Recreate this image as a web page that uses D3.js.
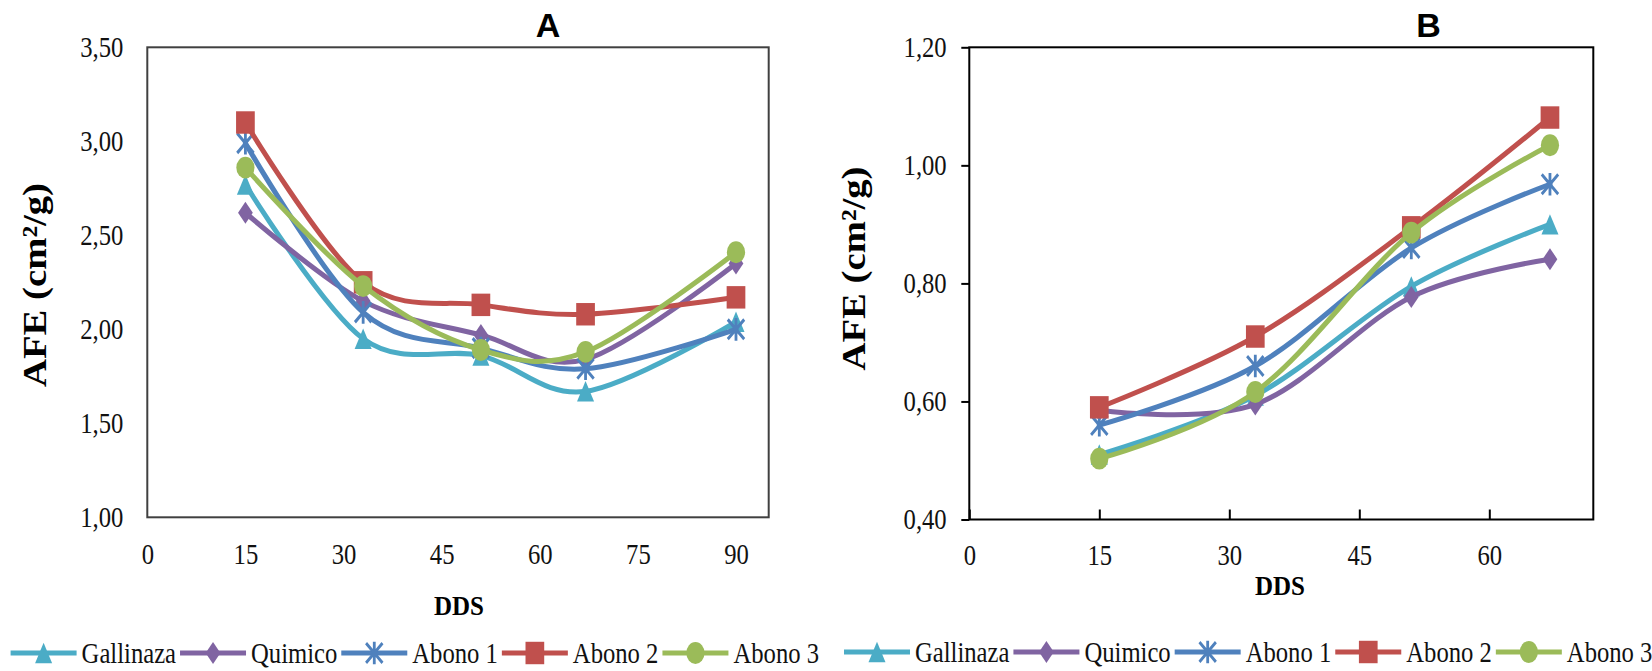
<!DOCTYPE html>
<html>
<head>
<meta charset="utf-8">
<script src="https://cdn.jsdelivr.net/npm/d3@7"></script>
<style>
  body { margin: 0; background: #fff; }
  svg { display: block; }
</style>
</head>
<body>
<svg id="chart" width="1652" height="671"></svg>
<script>
// series names / look
const seriesNames = ["Gallinaza", "Quimico", "Abono 1", "Abono 2", "Abono 3"];
const seriesColors = ["#4BACC6", "#8064A2", "#4F81BD", "#C0504D", "#9BBB59"];
const seriesMarkers = ["triangle", "diamond", "star", "square", "circle"];

// chart A
const daysA = [15, 33, 51, 67, 90];
const gallinazaA = [2.77, 1.95, 1.86, 1.67, 2.04];
const quimicoA = [2.62, 2.15, 1.97, 1.84, 2.35];
const abono1A = [2.99, 2.09, 1.90, 1.79, 2.00];
const abono2A = [3.10, 2.25, 2.13, 2.08, 2.17];
const abono3A = [2.86, 2.23, 1.89, 1.88, 2.41];
const xTicksA = [0, 15, 30, 45, 60, 75, 90];
const yTicksA = [1.0, 1.5, 2.0, 2.5, 3.0, 3.5];

// chart B
const daysB = [15, 33, 51, 67];
const gallinazaB = [0.51, 0.61, 0.795, 0.90];
const quimicoB = [0.585, 0.595, 0.777, 0.841];
const abono1B = [0.56, 0.66, 0.86, 0.968];
const abono2B = [0.59, 0.71, 0.895, 1.081];
const abono3B = [0.503, 0.616, 0.886, 1.034];
const xTicksB = [0, 15, 30, 45, 60];
const yTicksB = [0.4, 0.6, 0.8, 1.0, 1.2];

const svg = d3.select("#chart");
const SERIF = "Liberation Serif";
const SANS = "Liberation Sans";
const SX = 0.85;   // the original picture is squeezed sideways
const MY = 1.2;    // markers look stretched vertically

const locale = d3.formatLocale({decimal: ",", thousands: ".", grouping: [3], currency: ["", ""]});
const fmt = locale.format(".2f");

// custom excel-ish markers
const symDiamond = {
  draw(ctx, size) {
    const r = Math.sqrt(size) / 2;
    ctx.moveTo(0, -r); ctx.lineTo(r * 0.8, 0); ctx.lineTo(0, r); ctx.lineTo(-r * 0.8, 0); ctx.closePath();
  }
};
const symTriangle = {
  draw(ctx, size) {
    const r = Math.sqrt(size) / 2;
    ctx.moveTo(0, -r); ctx.lineTo(r, r); ctx.lineTo(-r, r); ctx.closePath();
  }
};
const symStar = {
  draw(ctx, size) {
    const r = Math.sqrt(size) / 2;
    ctx.moveTo(-r, -r); ctx.lineTo(r, r);
    ctx.moveTo(-r, r); ctx.lineTo(r, -r);
    ctx.moveTo(0, -r * 1.15); ctx.lineTo(0, r * 1.15);
  }
};
const markerTypes = {
  triangle: [symTriangle, 290],
  diamond: [symDiamond, 340],
  star: [symStar, 270],
  square: [d3.symbolSquare, 350],
  circle: [d3.symbolCircle, 260]
};

function drawMarker(g, kind, color, cx, cy) {
  const [type, size] = markerTypes[kind];
  const p = g.append("path")
    .attr("transform", `translate(${cx},${cy}) scale(1,${MY})`)
    .attr("d", d3.symbol().type(type).size(size)());
  if (kind === "star") {
    p.attr("fill", "none").attr("stroke", color).attr("stroke-width", 2.8);
  } else {
    p.attr("fill", color);
  }
}

function squeeze(sel) {
  sel.each(function() {
    const t = d3.select(this);
    const x = +t.attr("x") || 0;
    t.attr("x", x / SX).attr("transform", `scale(${SX},1)`);
  });
}

function drawChart(cfg) {
  const x = d3.scaleLinear().domain(cfg.xDomain).range(cfg.xRange);
  const y = d3.scaleLinear().domain(cfg.yDomain).range(cfg.yRange);
  const g = svg.append("g");

  // y axis
  const yAxis = d3.axisLeft(y).tickValues(cfg.yTicks).tickFormat(fmt)
    .tickSizeInner(cfg.yTick).tickSizeOuter(0).tickPadding(cfg.yPad);
  const ya = g.append("g").attr("transform", `translate(${cfg.xRange[0]},0)`).call(yAxis);
  ya.select(".domain").remove();
  ya.attr("font-family", null).attr("font-size", null);
  ya.selectAll("text").style("font-family", SERIF).style("font-size", "29px").attr("fill", "#111");
  ya.selectAll("line").attr("stroke", "#000").attr("stroke-width", 2);
  squeeze(ya.selectAll("text"));

  // x axis
  const xAxis = d3.axisBottom(x).tickValues(cfg.xTicks).tickFormat(d3.format("d"))
    .tickSizeInner(cfg.xTick).tickSizeOuter(0).tickPadding(cfg.xPad);
  const xa = g.append("g").attr("transform", `translate(0,${cfg.yRange[0]})`).call(xAxis);
  xa.select(".domain").remove();
  xa.attr("font-family", null).attr("font-size", null);
  xa.selectAll("text").style("font-family", SERIF).style("font-size", "29px").attr("fill", "#111");
  xa.selectAll("line").attr("stroke", "#000").attr("stroke-width", 2);
  squeeze(xa.selectAll("text"));

  // plot frame
  g.append("rect")
    .attr("x", cfg.xRange[0]).attr("y", cfg.yRange[1])
    .attr("width", cfg.xRange[1] - cfg.xRange[0])
    .attr("height", cfg.yRange[0] - cfg.yRange[1])
    .attr("fill", "none").attr("stroke", cfg.frame).attr("stroke-width", 2);

  // series
  const line = d3.line()
    .x((d, i) => x(cfg.days[i]))
    .y(d => y(d))
    .curve(d3.curveCardinal.tension(0));
  cfg.series.forEach((vals, s) => {
    g.append("path").attr("d", line(vals))
      .attr("fill", "none").attr("stroke", seriesColors[s])
      .attr("stroke-width", 5).attr("stroke-linejoin", "round").attr("stroke-linecap", "round");
    vals.forEach((v, i) => drawMarker(g, seriesMarkers[s], seriesColors[s], x(cfg.days[i]), y(v)));
  });

  // title
  g.append("text").attr("x", cfg.title[1]).attr("y", 37)
    .attr("text-anchor", "middle").style("font-family", SANS)
    .style("font-weight", "bold").style("font-size", "34px").text(cfg.title[0]);

  // axis titles
  g.append("text")
    .attr("transform", `translate(${cfg.yTitle[0]},${cfg.yTitle[1]}) rotate(-90)`)
    .attr("text-anchor", "middle").style("font-family", SERIF)
    .style("font-weight", "bold").style("font-size", "34px")
    .attr("textLength", 204).attr("lengthAdjust", "spacingAndGlyphs")
    .text("AFE (cm²/g)");
  g.append("text").attr("x", cfg.xTitle[0]).attr("y", cfg.xTitle[1])
    .attr("text-anchor", "middle").style("font-family", SERIF)
    .style("font-weight", "bold").style("font-size", "28px")
    .attr("textLength", 50).attr("lengthAdjust", "spacingAndGlyphs")
    .text("DDS");

  // legend
  let lx = cfg.legend[0];
  const ly = cfg.legend[1];
  seriesNames.forEach((name, s) => {
    g.append("line").attr("x1", lx).attr("x2", lx + 66).attr("y1", ly).attr("y2", ly)
      .attr("stroke", seriesColors[s]).attr("stroke-width", 5);
    drawMarker(g, seriesMarkers[s], seriesColors[s], lx + 33, ly);
    const tg = g.append("g").attr("transform", `translate(${lx + 71},${ly + 10})`);
    const t = tg.append("text").attr("x", 0).attr("y", 0)
      .style("font-family", SERIF).style("font-size", "29px").attr("fill", "#111").text(name);
    squeeze(t);
    lx += 71 + t.node().getComputedTextLength() * SX + 4;
  });
}

drawChart({
  days: daysA,
  series: [gallinazaA, quimicoA, abono1A, abono2A, abono3A],
  xDomain: [0, 95], xRange: [147.3, 768.7],
  yDomain: [1, 3.5], yRange: [517.3, 47.3],
  xTicks: xTicksA, yTicks: yTicksA,
  xTick: 0, xPad: 26, yTick: 0, yPad: 24,
  frame: "#404040",
  title: ["A", 548],
  yTitle: [46, 285],
  xTitle: [459, 615],
  legend: [10.6, 653]
});

drawChart({
  days: daysB,
  series: [gallinazaB, quimicoB, abono1B, abono2B, abono3B],
  xDomain: [0, 72], xRange: [969.3, 1593.3],
  yDomain: [0.4, 1.2], yRange: [519.5, 47.3],
  xTicks: xTicksB, yTicks: yTicksB,
  xTick: -10, xPad: 25, yTick: 8, yPad: 14.6,
  frame: "#000",
  title: ["B", 1428.5],
  yTitle: [865, 268.5],
  xTitle: [1280, 595],
  legend: [844, 652]
});
</script>
</body>
</html>
